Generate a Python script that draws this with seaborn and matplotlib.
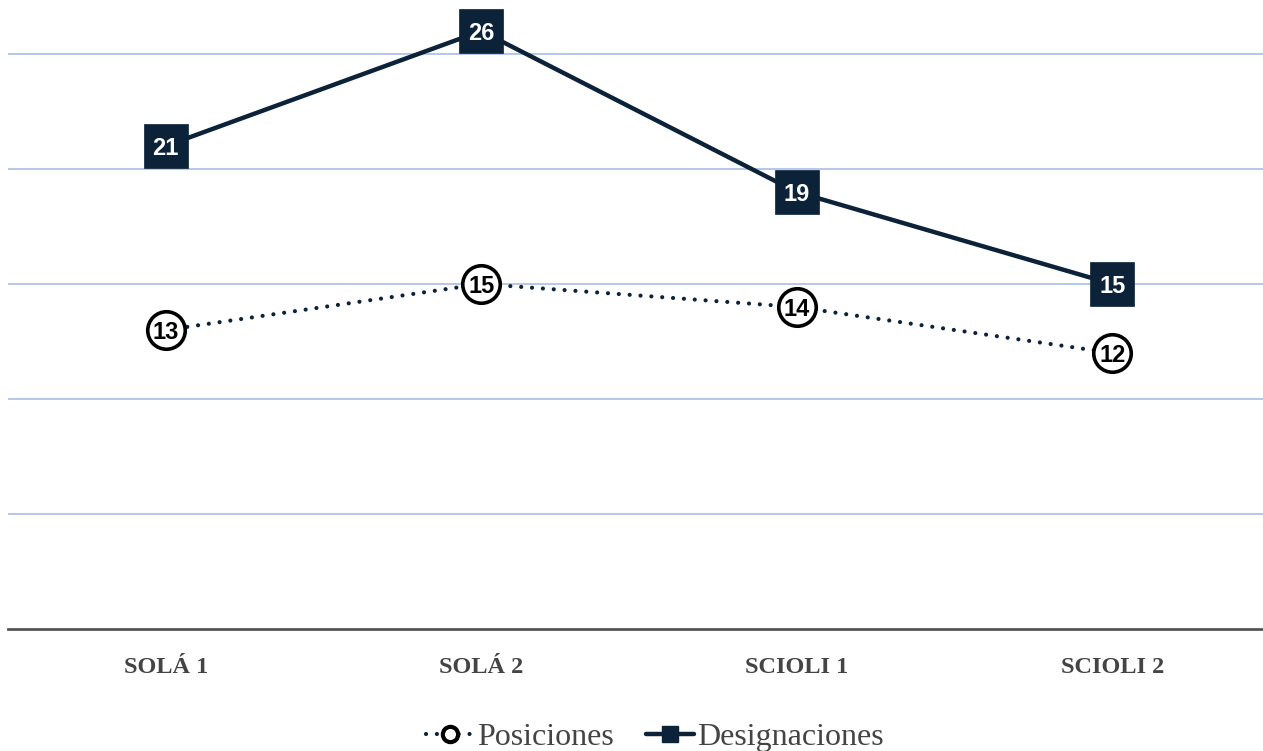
import matplotlib
matplotlib.use("Agg")
import matplotlib.pyplot as plt
from matplotlib.lines import Line2D
import seaborn as sns
import pandas as pd

categories = ["SOLÁ 1", "SOLÁ 2", "SCIOLI 1", "SCIOLI 2"]
posiciones = [13, 15, 14, 12]
designaciones = [21, 26, 19, 15]
grid_values = [5, 10, 15, 20, 25]

navy = "#0b2239"
grid_color = "#a9bfe6"
dots = (0, (0.01, 2.6))

sns.set_theme(style="white")
plt.rcParams["font.family"] = ["Liberation Sans", "DejaVu Sans"]

W, H = 1263, 751
fig = plt.figure(figsize=(W / 100, H / 100), dpi=100)
# axes: baseline at y=629px, top at image top, categories centred at 166..1112px
ax = fig.add_axes([8 / W, 1 - 629 / H, 1262 / W, 629 / H])

df = pd.DataFrame({"cat": list(range(len(categories))),
                   "pos": posiciones, "des": designaciones})

sns.lineplot(data=df, x="cat", y="pos", ax=ax, color=navy, linewidth=3,
             linestyle=dots, marker="o", markersize=27, markerfacecolor="white",
             markeredgecolor="black", markeredgewidth=2.6, clip_on=False,
             zorder=4)
sns.lineplot(data=df, x="cat", y="des", ax=ax, color=navy, linewidth=3.2,
             marker="s", markersize=31, markerfacecolor=navy,
             markeredgecolor=navy, markeredgewidth=0.5, clip_on=False,
             zorder=5)
for ln in ax.lines:
    ln.set_dash_capstyle("round")

for i, v in enumerate(posiciones):
    ax.text(i, v, str(v), ha="center", va="center_baseline", fontsize=17,
            color="black", fontweight="bold", zorder=6)
for i, v in enumerate(designaciones):
    ax.text(i, v, str(v), ha="center", va="center_baseline", fontsize=17,
            color="white", fontweight="bold", zorder=7, clip_on=False)

ax.set_xlim(-0.5, 3.5)
ax.set_ylim(0, 629 / 23)
for g in grid_values:
    ax.axhline(g, color=grid_color, linewidth=1.2, zorder=1)

ax.set_yticks([])
ax.set_xticks(range(len(categories)))
ax.set_xticklabels(categories, fontfamily="Liberation Serif", fontweight="bold",
                   fontsize=17.5, color="#444444")
ax.tick_params(axis="x", length=0, pad=20)
ax.set_xlabel("")
ax.set_ylabel("")
for s in ["top", "right", "left"]:
    ax.spines[s].set_visible(False)
ax.spines["bottom"].set_color("#555555")
ax.spines["bottom"].set_linewidth(2)

handles = [
    Line2D([0], [0], color=navy, linestyle=dots, linewidth=3, marker="o",
           markersize=11, markerfacecolor="white", markeredgecolor="black",
           markeredgewidth=3, dash_capstyle="round"),
    Line2D([0], [0], color=navy, linewidth=3.2, marker="s", markersize=11,
           markerfacecolor=navy, markeredgecolor=navy),
]
fig.legend(handles, ["Posiciones", "Designaciones"], loc="center",
           bbox_to_anchor=(655 / W, 1 - 737 / H), ncol=2, frameon=False,
           prop={"family": "Liberation Serif", "size": 23},
           labelcolor="#444444", handlelength=1.5, handletextpad=0.1,
           columnspacing=1.0)

fig.savefig("out.png", dpi=100)
